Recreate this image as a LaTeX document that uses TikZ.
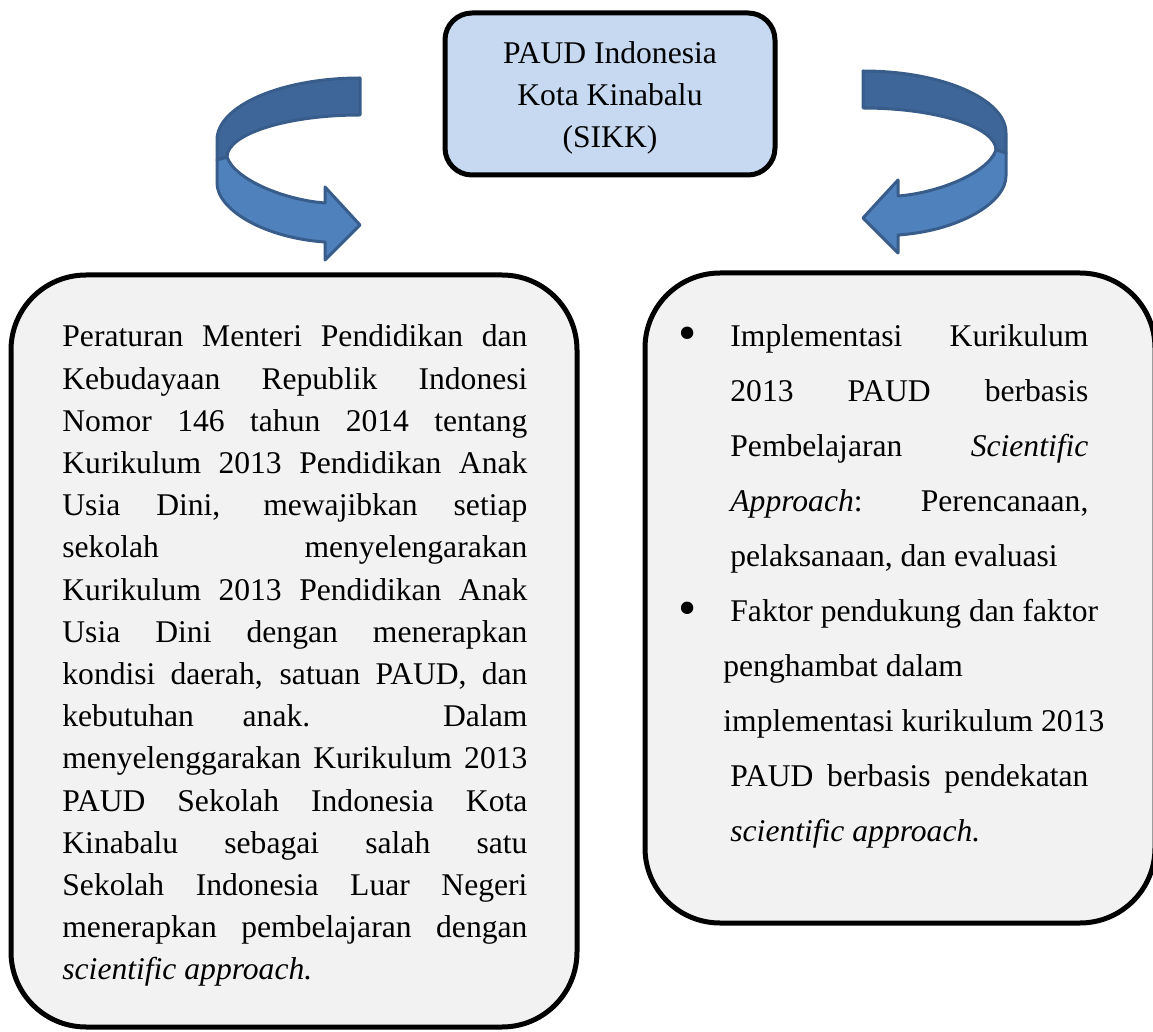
\documentclass[tikz,border=0pt]{standalone}
\usepackage{fontspec}
\setmainfont{Liberation Serif}
\definecolor{arrowdark}{HTML}{3F6699}
\definecolor{arrowlight}{HTML}{4F81BD}
\definecolor{arrowline}{HTML}{385D8A}
\definecolor{boxblue}{HTML}{C6D9F1}
\definecolor{boxgray}{HTML}{F2F2F2}
\tikzset{
  darkband/.style={fill=arrowdark, draw=arrowline, line width=1.5pt, line join=round},
  lightband/.style={fill=arrowlight, draw=arrowline, line width=1.5pt, line join=round},
  bigbox/.style={fill=boxgray, draw=black, line width=2.5pt, rounded corners=37.5pt},
  topbox/.style={fill=boxblue, draw=black, line width=2.5pt, rounded corners=13.5pt},
  toptext/.style={inner sep=0pt, align=center, font=\fontsize{15.8}{21}\selectfont},
  bodytext/.style={inner sep=0pt, text width=232.5pt, align=justify, font=\fontsize{15.8}{21.1}\selectfont},
  itemtext/.style={inner sep=0pt, text width=179pt, align=justify, font=\fontsize{15.8}{27.5}\selectfont},
  dot/.style={inner sep=0pt, font=\fontsize{26}{26}\selectfont}
}
% one bent arrow, drawn in pixel units
\newcommand{\bentarrow}{%
  \draw[darkband] (360,78) .. controls (281,78) and (217,106) .. (217,140) -- (217,160) -- (227,157)
    .. controls (227,134) and (287,115) .. (360,115) -- cycle;
  \draw[lightband] (217,160) -- (217,183) .. controls (217,210) and (265,238) .. (325,242) -- (325,260)
    -- (360,225) -- (325,187) -- (325,203) .. controls (285,200) and (235,180) .. (227,157) -- cycle;
}
\begin{document}
\begin{tikzpicture}[x=0.5pt, y=-0.5pt]
  \useasboundingbox (0,0) rectangle (1153,1032);

  \draw[topbox] (445,13) rectangle (775,175);
  \node[toptext, anchor=base] (paud) at (610,148) {PAUD Indonesia\\Kota Kinabalu\\(SIKK)};

  \bentarrow
  \begin{scope}[shift={(1223,-7)}, xscale=-1]
    \bentarrow
  \end{scope}

  \draw[bigbox] (11,275) rectangle (577,1027);
  \node[bodytext, anchor=base west] (rule) at (62,347) {Peraturan Menteri Pendidikan dan\linebreak
    Kebudayaan Republik Indonesi\linebreak
    Nomor 146 tahun 2014 tentang\linebreak
    Kurikulum 2013 Pendidikan Anak\linebreak
    Usia Dini, mewajibkan setiap\linebreak
    sekolah menyelengarakan\linebreak
    Kurikulum 2013 Pendidikan Anak\linebreak
    Usia Dini dengan menerapkan\linebreak
    kondisi daerah, satuan PAUD, dan\linebreak
    kebutuhan anak. Dalam\linebreak
    menyelenggarakan Kurikulum 2013\linebreak
    PAUD Sekolah Indonesia Kota\linebreak
    Kinabalu sebagai salah satu\linebreak
    Sekolah Indonesia Luar Negeri\linebreak
    menerapkan pembelajaran dengan\linebreak
    \textit{scientific approach.}};

  \draw[bigbox] (645,273) rectangle (1155,923);
  \node[dot] (dotone) at (688,339) {\textbullet};
  \node[itemtext, anchor=base west] (itemone) at (730,347) {Implementasi Kurikulum\linebreak
    2013 PAUD berbasis\linebreak
    Pembelajaran \textit{Scientific}\linebreak
    \textit{Approach}: Perencanaan,\linebreak
    pelaksanaan, dan evaluasi};
  \node[dot] (dottwo) at (688,614) {\textbullet};
  \node[itemtext, anchor=base west] (itemtwo) at (730,622) {\mbox{Faktor pendukung dan faktor}\newline
    \mbox{\hspace*{-3.5pt}penghambat dalam}\newline
    \mbox{\hspace*{-3.5pt}implementasi kurikulum 2013}\newline
    PAUD berbasis pendekatan\linebreak
    \textit{scientific approach.}};
\end{tikzpicture}
\end{document}
